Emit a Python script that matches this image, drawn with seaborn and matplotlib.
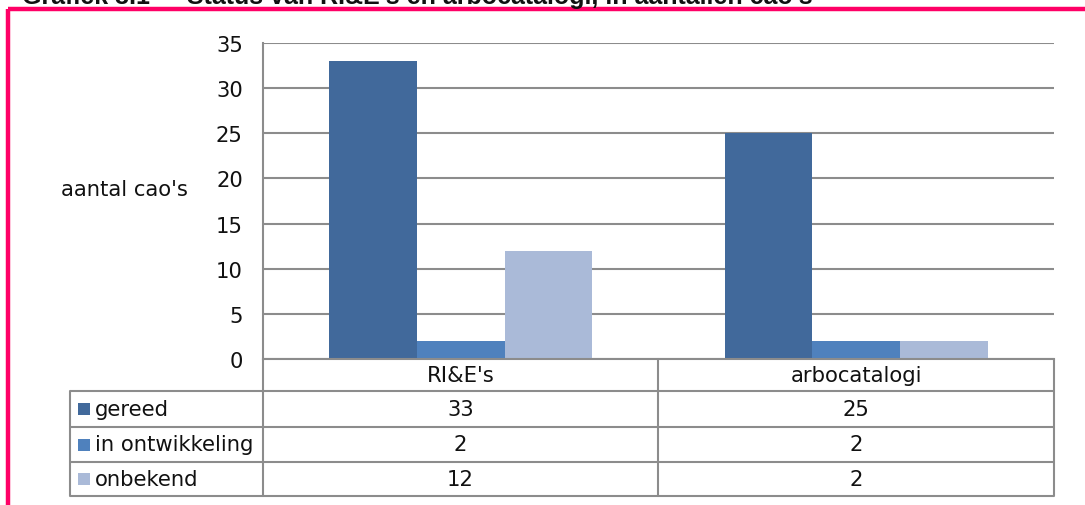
import matplotlib
matplotlib.use("Agg")
import matplotlib.pyplot as plt
import pandas as pd
import seaborn as sns

categories = ["RI&E's", "arbocatalogi"]
series = ["gereed", "in ontwikkeling", "onbekend"]
gereed = [33, 25]
in_ontwikkeling = [2, 2]
onbekend = [12, 2]
colors = ["#41699B", "#4F81BD", "#AABAD8"]
yticks = [0, 5, 10, 15, 20, 25, 30, 35]

values = {"gereed": gereed, "in ontwikkeling": in_ontwikkeling, "onbekend": onbekend}
df = pd.DataFrame(
    [(c, s, values[s][i]) for s in series for i, c in enumerate(categories)],
    columns=["categorie", "status", "aantal"],
)

sns.set_theme(style="white")
plt.rcParams["font.family"] = ["DejaVu Sans"]

W, H = 1085, 506
GRID = "#8C8C8C"
FS = 15.2

fig = plt.figure(figsize=(W / 100, H / 100), dpi=100)

# plot area in pixels: x 263..1054, y 44..360
x0, x1, y_top, y0 = 263, 1054, 44, 360
ax = fig.add_axes([x0 / W, (H - y0) / H, (x1 - x0) / W, (y0 - y_top) / H])
sns.barplot(data=df, x="categorie", y="aantal", hue="status", hue_order=series,
            order=categories, palette=colors, saturation=1, width=0.665,
            gap=0, legend=False, linewidth=0, ax=ax)
ax.set_xlim(-0.5, 1.5)
ax.set_ylim(0, 35)
ax.set_yticks(yticks)
ax.tick_params(axis="y", length=0, pad=14.5, labelsize=FS, labelcolor="#111111")
ax.set_xticks([])
ax.set_xlabel("")
ax.set_ylabel("aantal cao's", rotation=0, fontsize=FS, color="#111111", ha="center", va="center")
ax.yaxis.set_label_coords((124 - x0) / (x1 - x0), (y0 - 190) / (y0 - y_top))
ax.yaxis.grid(True, color=GRID, lw=1.5)
ax.set_axisbelow(True)
for side in ["top", "right"]:
    ax.spines[side].set_visible(False)
for side in ["left", "bottom"]:
    ax.spines[side].set_color(GRID)
    ax.spines[side].set_linewidth(1.5)

# overlay in pixel coordinates for the data table and the frame
ov = fig.add_axes([0, 0, 1, 1], zorder=3)
ov.set_xlim(0, W)
ov.set_ylim(H, 0)
ov.axis("off")

col_edges = [70, 263, 658, 1054]
row_edges = [360, 392, 428, 463, 497]

for y in row_edges[1:]:
    ov.plot([col_edges[0], col_edges[-1]], [y, y], color=GRID, lw=1.5, solid_capstyle="butt")
ov.plot([col_edges[0], col_edges[0]], [row_edges[1], row_edges[-1]], color=GRID, lw=1.5)
for x in col_edges[1:]:
    ov.plot([x, x], [row_edges[0], row_edges[-1]], color=GRID, lw=1.5)

hy = (row_edges[0] + row_edges[1]) / 2
for j, c in enumerate(categories):
    cx = (col_edges[j + 1] + col_edges[j + 2]) / 2
    ov.text(cx, hy, c, ha="center", va="center", fontsize=FS, color="#111111")

for i, s in enumerate(series):
    ry = (row_edges[i + 1] + row_edges[i + 2]) / 2
    ov.add_patch(plt.Rectangle((78, ry - 6), 12, 12, color=colors[i], lw=0))
    ov.text(95, ry, s, ha="left", va="center", fontsize=FS, color="#111111")
    for j in range(len(categories)):
        cx = (col_edges[j + 1] + col_edges[j + 2]) / 2
        ov.text(cx, ry, str(values[s][j]), ha="center", va="center", fontsize=FS, color="#111111")

# pink frame (top and left edges visible)
PINK = "#FF0066"
ov.plot([8, W], [10, 10], color=PINK, lw=3.2, solid_capstyle="butt")
ov.plot([8, 8], [10, H], color=PINK, lw=3.2, solid_capstyle="butt")

# caption above the frame, cut off by the top edge as in the source
ov.text(22, 4, "Grafiek 3.1", ha="left", va="baseline", fontsize=18,
        fontweight="bold", family=["Liberation Sans"], color="#111111")
ov.text(187, 4, "Status van RI&E's en arbocatalogi, in aantallen cao's", ha="left",
        va="baseline", fontsize=18, fontweight="bold", family=["Liberation Sans"], color="#111111")

fig.savefig("out.png", dpi=100)
